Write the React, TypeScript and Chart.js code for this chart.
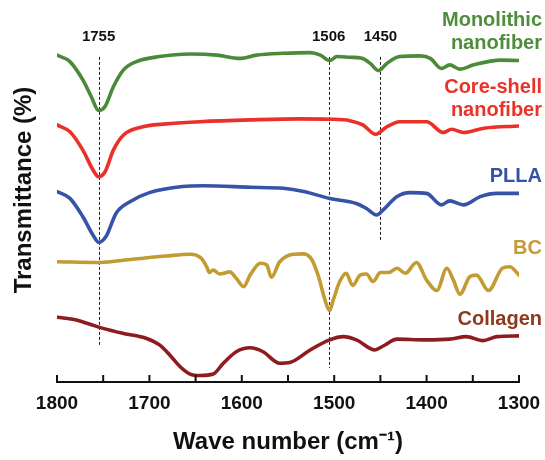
import React, { useEffect, useRef } from "react";
import { Chart, registerables } from "chart.js";

Chart.register(...registerables);

// ---- Data (wave number in cm^-1, transmittance in arbitrary offset units) ----
const monolithicWave = [1800, 1786, 1772, 1763, 1755, 1748, 1739, 1728, 1714, 1689, 1656, 1627, 1602, 1584, 1555, 1526, 1515, 1505, 1497, 1483, 1470, 1461, 1452, 1443, 1429, 1407, 1396, 1384, 1375, 1364, 1349, 1320, 1300];
const monolithicT = [90.8, 89.0, 83.9, 79.3, 75.4, 76.5, 82.0, 86.7, 89.0, 90.4, 91.1, 90.8, 89.9, 90.8, 91.3, 91.5, 90.8, 89.3, 90.4, 90.2, 89.9, 88.5, 86.5, 88.5, 90.4, 90.6, 89.9, 87.1, 88.1, 86.9, 88.1, 89.4, 89.3];

const coreShellWave = [1800, 1786, 1772, 1761, 1755, 1748, 1739, 1728, 1710, 1682, 1645, 1591, 1537, 1505, 1483, 1469, 1455, 1443, 1429, 1400, 1382, 1373, 1360, 1338, 1300];
const coreShellT = [71.4, 69.5, 64.4, 58.9, 57.0, 58.4, 64.4, 68.6, 70.7, 71.7, 72.3, 72.8, 73.1, 73.0, 72.6, 71.4, 68.8, 70.9, 72.3, 72.3, 69.3, 70.2, 69.3, 70.5, 71.1];

const pllaWave = [1800, 1786, 1772, 1761, 1755, 1747, 1736, 1721, 1700, 1664, 1642, 1591, 1555, 1533, 1505, 1476, 1465, 1454, 1447, 1432, 1418, 1400, 1384, 1375, 1360, 1342, 1324, 1300];
const pllaT = [52.9, 51.0, 45.9, 40.8, 38.8, 40.4, 46.9, 50.1, 52.6, 54.3, 54.5, 54.1, 53.8, 52.9, 51.0, 49.6, 48.2, 46.4, 47.8, 51.5, 52.6, 52.4, 49.2, 50.3, 49.2, 51.5, 52.4, 52.4];

const bcWave = [1800, 1755, 1718, 1682, 1656, 1644, 1638, 1635, 1631, 1624, 1613, 1606, 1598, 1591, 1580, 1573, 1568, 1559, 1544, 1533, 1524, 1517, 1510, 1505, 1501, 1494, 1487, 1480, 1472, 1465, 1458, 1450, 1441, 1432, 1423, 1411, 1400, 1389, 1378, 1371, 1364, 1353, 1346, 1333, 1318, 1310, 1300];
const bcT = [33.4, 33.2, 34.1, 35.0, 35.5, 34.4, 32.0, 30.4, 31.1, 30.0, 30.6, 28.8, 26.5, 29.7, 33.0, 32.5, 29.1, 33.4, 35.5, 35.6, 33.9, 29.3, 22.8, 19.8, 22.8, 27.9, 30.2, 26.8, 29.7, 30.0, 27.9, 30.4, 30.4, 31.6, 30.2, 33.2, 28.3, 25.4, 31.6, 28.3, 24.4, 29.3, 29.7, 25.4, 31.6, 32.0, 29.7];

const collagenWave = [1800, 1779, 1765, 1750, 1728, 1703, 1689, 1678, 1667, 1656, 1645, 1631, 1620, 1606, 1591, 1577, 1559, 1548, 1526, 1505, 1490, 1476, 1456, 1447, 1432, 1403, 1375, 1357, 1339, 1324, 1300];
const collagenT = [18.0, 17.2, 16.1, 14.9, 13.5, 12.1, 10.3, 7.5, 4.3, 2.2, 1.8, 2.2, 5.2, 8.4, 9.5, 8.4, 5.2, 5.4, 8.9, 11.7, 12.6, 11.7, 8.9, 10.0, 11.9, 11.7, 11.9, 12.6, 11.5, 12.6, 12.8];

// Marked peaks: wave number, dashed line lower end (transmittance units)
const peakWaves = [1755, 1506, 1450];
const peakLabels = ["1755", "1506", "1450"];
const peakLineBottoms = [10.3, 3.9, 39.4];
const peakLineTop = 90.3;
const peakLabelLevel = 96.0;

// Series names (right side labels)
const seriesNames = [["Monolithic", "nanofiber"], ["Core-shell", "nanofiber"], ["PLLA"], ["BC"], ["Collagen"]];
const seriesLabelLevels = [100.3, 81.7, 57.2, 37.2, 17.5];
const lineColors = ["#4b8a38", "#ea3129", "#3653a8", "#c39b33", "#8d1c1f"];
const labelColors = ["#4f8d3d", "#eb3229", "#3652a6", "#c49b36", "#8b3a1c"];

const xTitle = "Wave number (cm\u207B\u00B9)";
const yTitle = "Transmittance (%)";

const FONT = "'Liberation Sans', Arial, Helvetica, sans-serif";

const toPoints = (w: number[], t: number[]) => w.map((x, i) => ({ x, y: t[i] }));

const overlayPlugin = {
  id: "overlay",
  beforeDatasetsDraw(chart: any) {
    const { ctx, scales } = chart;
    const x = scales.x;
    const y = scales.y;
    ctx.save();
    ctx.strokeStyle = "#222";
    ctx.lineWidth = 1;
    ctx.setLineDash([3, 2]);
    peakWaves.forEach((w, i) => {
      const px = Math.round(x.getPixelForValue(w)) + 0.5;
      ctx.beginPath();
      ctx.moveTo(px, y.getPixelForValue(peakLineTop));
      ctx.lineTo(px, y.getPixelForValue(peakLineBottoms[i]));
      ctx.stroke();
    });
    ctx.restore();
  },
  afterDatasetsDraw(chart: any) {
    const { ctx, scales, chartArea } = chart;
    const x = scales.x;
    const y = scales.y;
    ctx.save();
    // tick marks pointing up into plot
    ctx.strokeStyle = "#111";
    ctx.lineWidth = 2;
    x.ticks.forEach((t: any) => {
      const px = x.getPixelForValue(t.value);
      ctx.beginPath();
      ctx.moveTo(px, chartArea.bottom);
      ctx.lineTo(px, chartArea.bottom - 7);
      ctx.stroke();
    });
    // peak labels
    ctx.fillStyle = "#111";
    ctx.font = `bold 15px ${FONT}`;
    ctx.textAlign = "center";
    ctx.textBaseline = "middle";
    peakWaves.forEach((w, i) => {
      ctx.fillText(peakLabels[i], x.getPixelForValue(w), y.getPixelForValue(peakLabelLevel));
    });
    // series labels
    ctx.font = `bold 20px ${FONT}`;
    ctx.textAlign = "right";
    const rx = chartArea.right + 23;
    seriesNames.forEach((lines, i) => {
      ctx.fillStyle = labelColors[i];
      const y0 = y.getPixelForValue(seriesLabelLevels[i]);
      lines.forEach((s, j) => ctx.fillText(s, rx, y0 + j * 22.5));
    });
    // y title
    ctx.fillStyle = "#111";
    ctx.font = `bold 24px ${FONT}`;
    ctx.textAlign = "center";
    ctx.translate(24, (chartArea.top + chartArea.bottom) / 2 - 12);
    ctx.rotate(-Math.PI / 2);
    ctx.fillText(yTitle, 0, 0);
    ctx.restore();
  },
};

export default function App() {
  const ref = useRef<HTMLCanvasElement | null>(null);
  useEffect(() => {
    if (!ref.current) return;
    const series = [
      toPoints(monolithicWave, monolithicT),
      toPoints(coreShellWave, coreShellT),
      toPoints(pllaWave, pllaT),
      toPoints(bcWave, bcT),
      toPoints(collagenWave, collagenT),
    ];
    const chart = new Chart(ref.current, {
      type: "line",
      data: {
        datasets: series.map((d, i) => ({
          data: d,
          borderColor: lineColors[i],
          borderWidth: 3.6,
          pointRadius: 0,
          fill: false,
          cubicInterpolationMode: "monotone" as const,
          borderJoinStyle: "round" as const,
          borderCapStyle: "round" as const,
        })),
      },
      options: {
        responsive: false,
        animation: false,
        devicePixelRatio: 1,
        layout: { padding: { left: 57, right: 26, top: 22, bottom: 0 } },
        plugins: { legend: { display: false }, tooltip: { enabled: false } },
        scales: {
          x: {
            type: "linear",
            reverse: true,
            min: 1300,
            max: 1800,
            afterFit: (s: any) => {
              s.height = 78;
              s.paddingLeft = 0;
              s.paddingRight = 0;
            },
            grid: { display: false, drawTicks: false },
            border: { display: true, color: "#111", width: 2 },
            ticks: {
              stepSize: 50,
              autoSkip: false,
              maxRotation: 0,
              padding: 10,
              color: "#111",
              font: { family: FONT, size: 19, weight: "bold" },
              callback: (v: any) => (Number(v) % 100 === 0 ? String(v) : ""),
            },
            title: {
              display: true,
              text: xTitle,
              color: "#111",
              font: { family: FONT, size: 24, weight: "bold" },
              padding: { top: 0, bottom: 3 },
            },
          },
          y: { display: false, min: 0, max: 100 },
        },
      },
      plugins: [overlayPlugin],
    });
    return () => chart.destroy();
  }, []);
  return (
    <div style={{ position: "absolute", left: 0, top: 0, width: 545, height: 460, background: "#fff" }}>
      <canvas ref={ref} width={545} height={460} style={{ width: 545, height: 460 }} />
    </div>
  );
}
